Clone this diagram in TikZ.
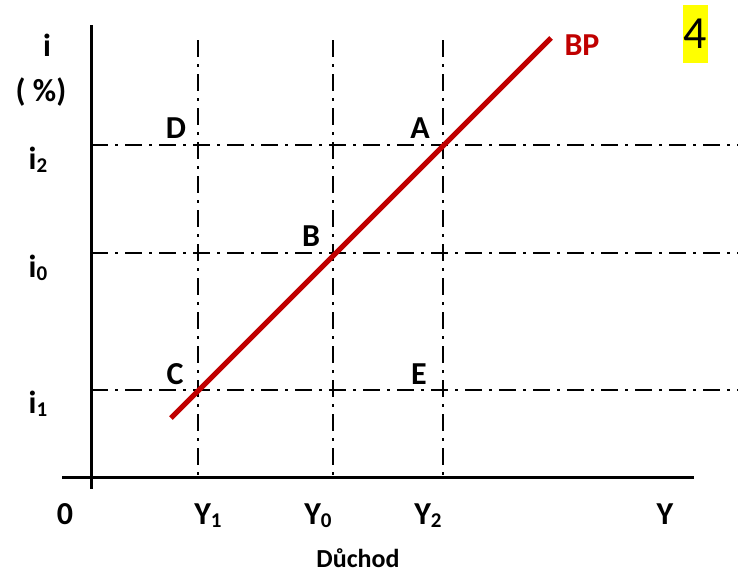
\documentclass[tikz,border=0pt]{standalone}
\usepackage{fontspec}
\setmainfont{Carlito}
\definecolor{bpred}{HTML}{C00000}
\definecolor{markyellow}{HTML}{FFFF00}
\newcommand{\lowidx}[1]{\raisebox{-0.12em}{\fontsize{21}{21}\selectfont #1}}
\begin{document}
\begin{tikzpicture}[x=1pt,y=-1pt,
  lbl/.style={font=\fontsize{32}{32}\selectfont\bfseries, inner sep=0pt, anchor=base},
  dashdot/.style={line width=2pt, dash pattern=on 17pt off 7pt on 3pt off 7pt},
  axisline/.style={line width=3pt},
  bpline/.style={bpred, line width=5pt}]
\useasboundingbox (0,0) rectangle (738,573);
\fill[white] (0,0) rectangle (738,573);
% axes
\coordinate (ytop) at (91,25);
\coordinate (ybot) at (91,489);
\coordinate (xl) at (62,477);
\coordinate (xr) at (694,477);
\draw[axisline] (ytop) -- (ybot);
\draw[axisline] (xl) -- (xr);
% guide lines
\coordinate (v1t) at (198,40); \coordinate (v1b) at (198,477);
\coordinate (v0t) at (333,40); \coordinate (v0b) at (333,477);
\coordinate (v2t) at (443,40); \coordinate (v2b) at (443,477);
\coordinate (h2l) at (91,145); \coordinate (h2r) at (738,145);
\coordinate (h0l) at (91,253); \coordinate (h0r) at (738,253);
\coordinate (h1l) at (91,390); \coordinate (h1r) at (738,390);
\draw[dashdot] (v1t) -- (v1b);
\draw[dashdot] (v0t) -- (v0b);
\draw[dashdot] (v2t) -- (v2b);
\draw[dashdot] (h2l) -- (h2r);
\draw[dashdot] (h0l) -- (h0r);
\draw[dashdot] (h1l) -- (h1r);
% BP curve
\coordinate (bps) at (171,418);
\coordinate (bpe) at (551,38);
\draw[bpline] (bps) -- (bpe);
% labels
\node[lbl] (li) at (47,56) {i};
\node[lbl] (lpct) at (41,101) {( \%)};
\node[lbl] (li2) at (38,169) {i\lowidx{2}};
\node[lbl] (li0) at (38,277) {i\lowidx{0}};
\node[lbl] (li1) at (38,413) {i\lowidx{1}};
\node[lbl] (pD) at (176,138) {D};
\node[lbl] (pA) at (420,138) {A};
\node[lbl] (pB) at (311,246) {B};
\node[lbl] (pC) at (175,384) {C};
\node[lbl] (pE) at (419,384) {E};
\node[lbl, text=bpred] (lbp) at (582,55) {BP};
\node[lbl] (l0) at (65,524) {0};
\node[lbl] (lY1) at (208,524) {Y\lowidx{1}};
\node[lbl] (lY0) at (318,524) {Y\lowidx{0}};
\node[lbl] (lY2) at (428,524) {Y\lowidx{2}};
\node[lbl] (lY) at (665,524) {Y};
\node[font=\fontsize{26}{26}\selectfont\bfseries, inner sep=0pt, anchor=base] (ldu) at (358,567) {Důchod};
\node[fill=markyellow, minimum width=25pt, minimum height=58pt, inner sep=0pt, font=\fontsize{46}{46}\selectfont] (num) at (695.5,34) {4};
\end{tikzpicture}
\end{document}
